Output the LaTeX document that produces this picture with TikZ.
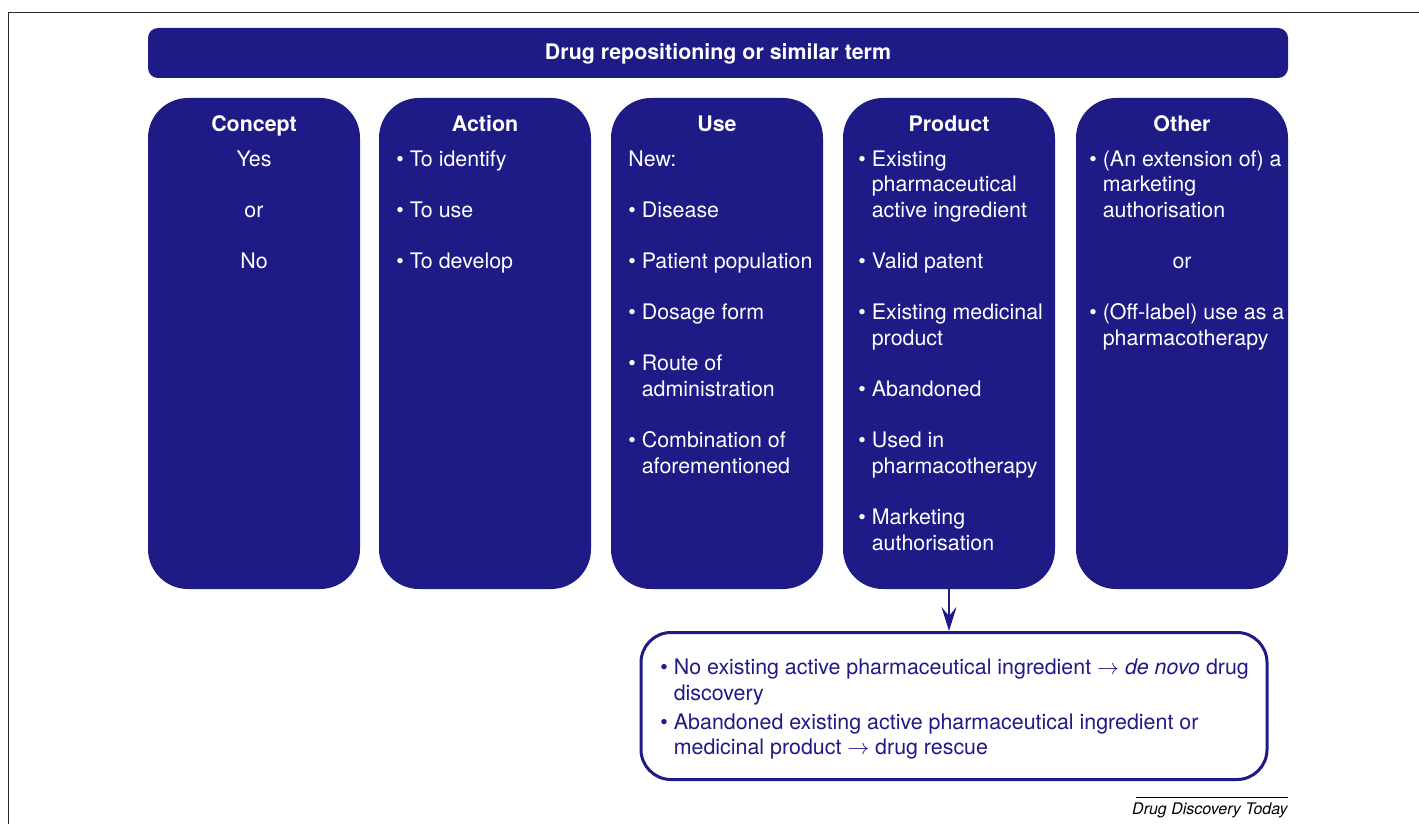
\documentclass[tikz,border=0pt]{standalone}
\usepackage{fontspec}
\setmainfont{TeX Gyre Heros}
\usetikzlibrary{arrows.meta}
\definecolor{navy}{RGB}{30,26,134}
\definecolor{framegray}{RGB}{40,40,40}
\newcommand\bodyfont{\fontsize{10.7}{12.8}\selectfont}
\newcommand\bul{\textbullet\ }
\newcommand\ind{\phantom{\textbullet\ }}
\newcommand\tline[4]{\node[txt] (#1) at (#2,#3) {#4};}
\newcommand\ctline[4]{\node[ctxt] (#1) at (#2,#3) {#4};}
\begin{document}
\begin{tikzpicture}[x=0.5pt,y=-0.5pt,
  colbox/.style={fill=navy, draw=none, rounded corners=20pt, minimum width=106pt, minimum height=245.5pt, inner sep=0},
  titlebox/.style={fill=navy, draw=none, rounded corners=5pt, minimum width=570pt, minimum height=25pt, inner sep=0},
  notebox/.style={fill=white, draw=navy, line width=1.5pt, rounded corners=15pt, minimum width=313pt, minimum height=73.5pt, inner sep=0},
  txt/.style={anchor=base west, inner sep=0, font=\bodyfont, text=white},
  ctxt/.style={anchor=base, inner sep=0, font=\bodyfont, text=white},
  head/.style={anchor=base, inner sep=0, font=\bodyfont\bfseries, text=white},
  ntxt/.style={anchor=base west, inner sep=0, font=\bodyfont, text=navy},
  arr/.style={draw=navy, line width=1pt, -{Stealth[length=12pt,width=7.5pt,inset=4.5pt]}}
]
\useasboundingbox (0,0) rectangle (1419,824);
% frame
\coordinate (fbl) at (8.5,826);
\coordinate (ftl) at (8.5,12.5);
\coordinate (ftr) at (1421,12.5);
\draw[framegray, line width=0.8pt] (fbl) -- (ftl) -- (ftr);

% title
\node[titlebox] (title) at (718,53) {};
\node[head] (titletext) at (718,60) {Drug repositioning or similar term};

% columns
\node[colbox] (concept) at (254,343.5) {};
\node[colbox] (action) at (485,343.5) {};
\node[colbox] (use) at (717,343.5) {};
\node[colbox] (product) at (949,343.5) {};
\node[colbox] (other) at (1182,343.5) {};

\node[head] (h1) at (254,131.5) {Concept};
\node[head] (h2) at (485,131.5) {Action};
\node[head] (h3) at (717,131.5) {Use};
\node[head] (h4) at (949,131.5) {Product};
\node[head] (h5) at (1182,131.5) {Other};

% Concept
\ctline{c1}{254}{166}{Yes}
\ctline{c2}{254}{217.2}{or}
\ctline{c3}{254}{268.4}{No}

% Action
\tline{a1}{396}{166}{\bul To identify}
\tline{a2}{396}{217.2}{\bul To use}
\tline{a3}{396}{268.4}{\bul To develop}

% Use
\tline{u0}{628}{166}{New:}
\tline{u1}{628}{217.2}{\bul Disease}
\tline{u2}{628}{268.4}{\bul Patient population}
\tline{u3}{628}{319.6}{\bul Dosage form}
\tline{u4}{628}{370.8}{\bul Route of}
\tline{u4b}{628}{396.4}{\ind administration}
\tline{u5}{628}{447.6}{\bul Combination of}
\tline{u5b}{628}{473.2}{\ind aforementioned}

% Product
\tline{p1}{858}{166}{\bul Existing}
\tline{p1b}{858}{191.6}{\ind pharmaceutical}
\tline{p1c}{858}{217.2}{\ind active ingredient}
\tline{p2}{858}{268.4}{\bul Valid patent}
\tline{p3}{858}{319.6}{\bul Existing medicinal}
\tline{p3b}{858}{345.2}{\ind product}
\tline{p4}{858}{396.4}{\bul Abandoned}
\tline{p5}{858}{447.6}{\bul Used in}
\tline{p5b}{858}{473.2}{\ind pharmacotherapy}
\tline{p6}{858}{524.4}{\bul Marketing}
\tline{p6b}{858}{550}{\ind authorisation}

% Other
\tline{o1}{1089}{166}{\bul (An extension of) a}
\tline{o1b}{1089}{191.6}{\ind marketing}
\tline{o1c}{1089}{217.2}{\ind authorisation}
\ctline{o2}{1182}{268.4}{or}
\tline{o3}{1089}{319.6}{\bul (Off-label) use as a}
\tline{o3b}{1089}{345.2}{\ind pharmacotherapy}

% note box
\node[notebox] (note) at (954,706) {};
\node[ntxt] (n1) at (660,674) {\bul No existing active pharmaceutical ingredient $\rightarrow$ \textit{de novo} drug};
\node[ntxt] (n1b) at (660,700) {\ind discovery};
\node[ntxt] (n2) at (660,729) {\bul Abandoned existing active pharmaceutical ingredient or};
\node[ntxt] (n2b) at (660,754) {\ind medicinal product $\rightarrow$ drug rescue};

% arrow
\draw[arr] (product.south) -- (product.south |- note.north);

% footer
\node[anchor=base east, inner sep=0, font=\fontsize{8}{9}\selectfont\itshape, text=black] (footer) at (1288,814) {Drug Discovery Today};
\coordinate (fl1) at (1136,797);
\coordinate (fl2) at (1288,797);
\draw[black, line width=0.5pt] (fl1) -- (fl2);
\end{tikzpicture}
\end{document}
